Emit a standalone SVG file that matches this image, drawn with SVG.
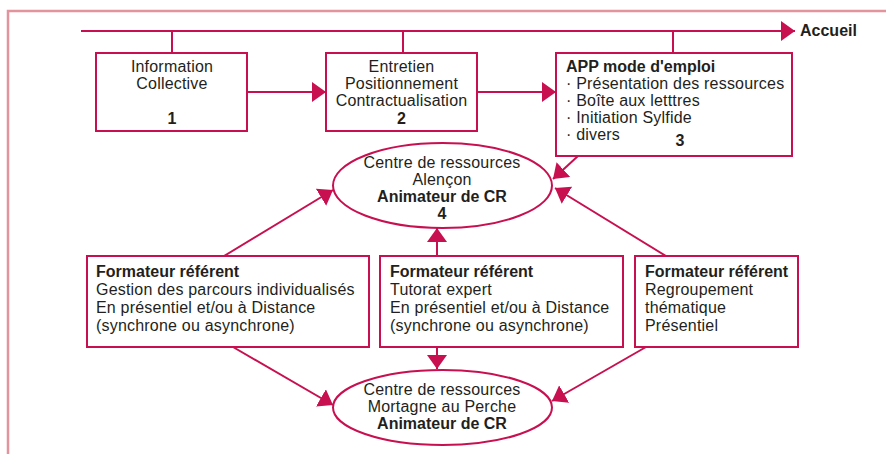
<svg xmlns="http://www.w3.org/2000/svg" width="886" height="454" viewBox="0 0 886 454">
<style>
.frame{fill:none;stroke:#e3939c;stroke-width:2.5}
.box{fill:#fff;stroke:#c80f50;stroke-width:2}
.ln{fill:none;stroke:#c80f50;stroke-width:2}
text{font-family:"Liberation Sans",Arial,sans-serif;font-size:16px;fill:#231f20;letter-spacing:0.2px}
.b{font-weight:bold;letter-spacing:0}
.c{text-anchor:middle}
</style>
<defs>
<marker id="ah" markerUnits="userSpaceOnUse" markerWidth="14" markerHeight="20" refX="14" refY="10" orient="auto" viewBox="0 0 14 20">
<path d="M0,0 L14,10 L0,20 z" fill="#c80f50"/>
</marker>
</defs>
<rect class="frame" x="8" y="11" width="900" height="460"/>
<g id="connectors">
<line class="ln" x1="81" y1="31" x2="795" y2="31" marker-end="url(#ah)"/>
<line class="ln" x1="172" y1="31" x2="172" y2="53"/>
<line class="ln" x1="403" y1="31" x2="403" y2="53"/>
<line class="ln" x1="673" y1="31" x2="673" y2="53"/>
<line class="ln" x1="247" y1="92" x2="326" y2="92" marker-end="url(#ah)"/>
<line class="ln" x1="477" y1="92" x2="556" y2="92" marker-end="url(#ah)"/>
<line class="ln" x1="578" y1="156" x2="553" y2="179" marker-end="url(#ah)"/>
<line class="ln" x1="224" y1="256" x2="333" y2="190" marker-end="url(#ah)"/>
<line class="ln" x1="437" y1="256" x2="437" y2="228" marker-end="url(#ah)"/>
<line class="ln" x1="666" y1="256" x2="555" y2="188" marker-end="url(#ah)"/>
<line class="ln" x1="233" y1="347" x2="333" y2="405" marker-end="url(#ah)"/>
<line class="ln" x1="437" y1="347" x2="437" y2="369" marker-end="url(#ah)"/>
<line class="ln" x1="646" y1="347" x2="552" y2="401" marker-end="url(#ah)"/>
</g>
<g id="accueil">
<text class="b" x="800" y="36">Accueil</text>
</g>
<g id="n1">
<rect class="box" x="96" y="53" width="151" height="78"/>
<text class="c" x="172" y="72">Information</text>
<text class="c" x="172" y="89">Collective</text>
<text class="c b" x="172" y="124">1</text>
</g>
<g id="n2">
<rect class="box" x="326" y="53" width="151" height="78"/>
<text class="c" x="401.5" y="72">Entretien</text>
<text class="c" x="401.5" y="89">Positionnement</text>
<text class="c" x="401.5" y="106">Contractualisation</text>
<text class="c b" x="401.5" y="124">2</text>
</g>
<g id="n3">
<rect class="box" x="556" y="53" width="236" height="103"/>
<text class="b" x="566" y="72">APP mode d'emploi</text>
<text x="566" y="89">· Présentation des ressources</text>
<text x="566" y="106">· Boîte aux letttres</text>
<text x="566" y="123">· Initiation Sylfide</text>
<text x="566" y="140">· divers</text>
<text class="b" x="680" y="146" text-anchor="middle">3</text>
</g>
<g id="n4">
<ellipse class="box" cx="442.5" cy="185.5" rx="109.5" ry="42.5"/>
<text class="c" x="442" y="168">Centre de ressources</text>
<text class="c" x="442" y="185">Alençon</text>
<text class="c b" x="442" y="202">Animateur de CR</text>
<text class="c b" x="442" y="219">4</text>
</g>
<g id="n5">
<rect class="box" x="87" y="256" width="282" height="91"/>
<text class="b" x="96" y="277">Formateur référent</text>
<text x="96" y="295">Gestion des parcours individualisés</text>
<text x="96" y="313">En présentiel et/ou à Distance</text>
<text x="96" y="331">(synchrone ou asynchrone)</text>
</g>
<g id="n6">
<rect class="box" x="380" y="256" width="243" height="91"/>
<text class="b" x="390" y="277">Formateur référent</text>
<text x="390" y="295">Tutorat expert</text>
<text x="390" y="313">En présentiel et/ou à Distance</text>
<text x="390" y="331">(synchrone ou asynchrone)</text>
</g>
<g id="n7">
<rect class="box" x="635" y="256" width="163" height="91"/>
<text class="b" x="645" y="277">Formateur référent</text>
<text x="645" y="295">Regroupement</text>
<text x="645" y="313">thématique</text>
<text x="645" y="331">Présentiel</text>
</g>
<g id="n8">
<ellipse class="box" cx="442.5" cy="407.5" rx="109.5" ry="37.5"/>
<text class="c" x="442" y="395">Centre de ressources</text>
<text class="c" x="442" y="412">Mortagne au Perche</text>
<text class="c b" x="442" y="429">Animateur de CR</text>
</g>
</svg>
